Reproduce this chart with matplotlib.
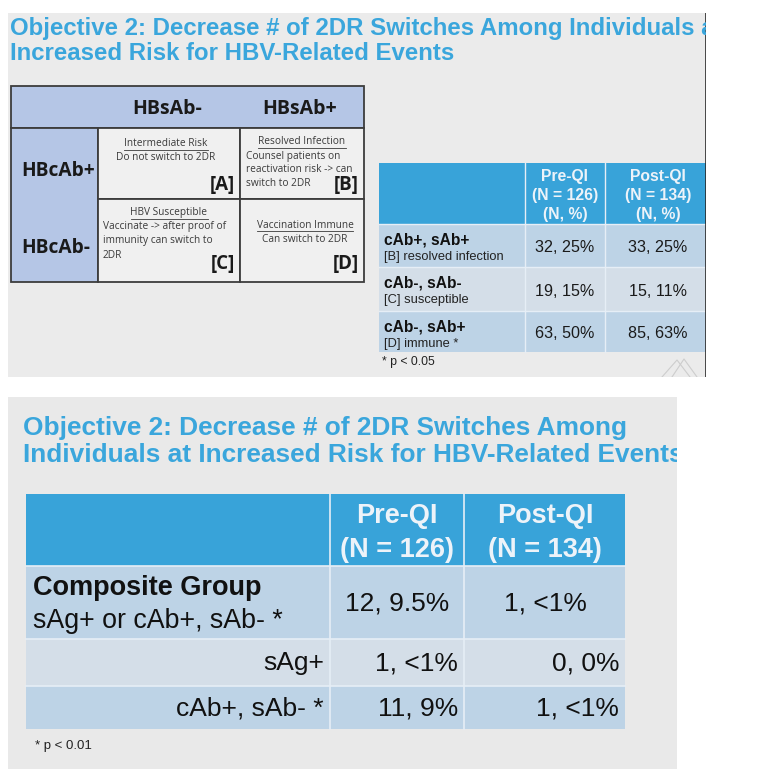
import matplotlib
matplotlib.use("Agg")
import matplotlib.pyplot as plt
from matplotlib.patches import Rectangle

W, H = 765, 777

# ---- data ----
title_top = ["Objective 2: Decrease # of 2DR Switches Among Individuals at",
             "Increased Risk for HBV-Related Events"]
title_bottom = ["Objective 2: Decrease # of 2DR Switches Among",
                "Individuals at Increased Risk for HBV-Related Events"]

grid_cols = ["HBsAb-", "HBsAb+"]
grid_rows = ["HBcAb+", "HBcAb-"]
grid_titles = [["Intermediate Risk", "Resolved Infection"],
               ["HBV Susceptible", "Vaccination Immune"]]
grid_bodies = [[["Do not switch to 2DR"],
                ["Counsel patients on", "reactivation risk -> can", "switch to 2DR"]],
               [["Vaccinate -> after proof of", "immunity can switch to", "2DR"],
                ["Can switch to 2DR"]]]
grid_tags = [["[A]", "[B]"], ["[C]", "[D]"]]

rt_heads = [["Pre-QI", "(N = 126)", "(N, %)"], ["Post-QI", "(N = 134)", "(N, %)"]]
rt_groups = ["cAb+, sAb+", "cAb-, sAb-", "cAb-, sAb+"]
rt_notes = ["[B] resolved infection", "[C] susceptible", "[D] immune *"]
rt_pre = ["32, 25%", "19, 15%", "63, 50%"]
rt_post = ["33, 25%", "15, 11%", "85, 63%"]
rt_foot = "* p < 0.05"

bt_heads = [["Pre-QI", "(N = 126)"], ["Post-QI", "(N = 134)"]]
bt_group = ["Composite Group", "sAg+ or cAb+, sAb- *"]
bt_sub = ["sAg+", "cAb+, sAb- *"]
bt_pre = ["12, 9.5%", "1, <1%", "11, 9%"]
bt_post = ["1, <1%", "0, 0%", "1, <1%"]
bt_foot = "* p < 0.01"

BLUE_T = "#3aa6dc"
HEAD = "#38a3d9"
ROW_A = "#bdd3e6"
ROW_B = "#d4dee8"
PERI = "#b5c6e6"
ARIAL = "Liberation Sans"
OPEN = "Open Sans"

fig = plt.figure(figsize=(W / 100, H / 100), dpi=100)
fig.patch.set_facecolor("white")


def slide(x0, y0, x1, y1, color):
    ax = fig.add_axes([x0 / W, 1 - y1 / H, (x1 - x0) / W, (y1 - y0) / H])
    ax.set_xlim(x0, x1)
    ax.set_ylim(y1, y0)
    ax.set_xticks([])
    ax.set_yticks([])
    for s in ax.spines.values():
        s.set_visible(False)
    ax.set_facecolor(color)
    return ax


def box(ax, x0, y0, x1, y1, fc, ec="none", lw=0):
    ax.add_patch(Rectangle((x0, y0), x1 - x0, y1 - y0, facecolor=fc,
                           edgecolor=ec, linewidth=lw))


# ================= top slide =================
ax1 = slide(8, 13, 706, 377, "#ebebeb")
for i, line in enumerate(title_top):
    ax1.text(10, 35 + i * 25, line, fontsize=17.3, fontweight="bold", family=ARIAL,
             color=BLUE_T, va="baseline", ha="left", clip_on=True)

# 2x2 grid
gx = [11, 98, 240, 364]
gy = [86, 128, 199, 282]
ec = "#3c3c3c"
box(ax1, gx[0], gy[0], gx[3], gy[1], PERI, ec, 1.3)
box(ax1, gx[0], gy[1], gx[1], gy[3], PERI, ec, 1.3)
for r in range(2):
    for c in range(2):
        box(ax1, gx[c + 1], gy[r + 1], gx[c + 2], gy[r + 2], "#f0f0f0", ec, 1.3)

for c, lab in enumerate(grid_cols):
    ax1.text((gx[c + 1] + gx[c + 2]) / 2 - 2, 109, lab, fontsize=14, fontweight="bold",
             family=OPEN, color="#1a1a1a", ha="center", va="center")
row_y = [171, 248]
for r, lab in enumerate(grid_rows):
    ax1.text(gx[0] + 10, row_y[r], lab, fontsize=13.8, fontweight="bold",
             family=OPEN, color="#1a1a1a", ha="left", va="center")

fig.canvas.draw()
renderer = fig.canvas.get_renderer()

# cell layout: (title centre x, title y, body x, body align, first body y)
cell_layout = [[(166, 144, 166, "center", 158), (302, 142, 246, "left", 156)],
               [(169, 213, 103, "left", 227), (305, 225, 305, "center", 239)]]
tag_y = [185, 264]
for r in range(2):
    for c in range(2):
        tx, ty, bx, ba, by = cell_layout[r][c]
        t = ax1.text(tx, ty, grid_titles[r][c], fontsize=7.3, family=OPEN,
                     color="#3a3a3a", ha="center", va="center")
        bb = t.get_window_extent(renderer).transformed(ax1.transData.inverted())
        ax1.plot([bb.x0, bb.x1], [ty + 5.5, ty + 5.5], color="#3a3a3a", lw=0.6)
        for k, line in enumerate(grid_bodies[r][c]):
            ax1.text(bx, by + k * 14, line, fontsize=7.3, family=OPEN,
                     color="#3a3a3a", ha=ba, va="center")
        ax1.text(gx[c + 2] - 5, tag_y[r], grid_tags[r][c], fontsize=13.5, fontweight="bold",
                 family=OPEN, color="#1a1a1a", ha="right", va="center")

# right table
rx = [379, 525, 605, 706]
ry = [163, 224, 267, 311, 352]
box(ax1, rx[0], ry[0], rx[3], ry[1], HEAD)
for i in range(3):
    box(ax1, rx[0], ry[i + 1], rx[3], ry[i + 2], ROW_A if i % 2 == 0 else ROW_B)
for x in rx[1:3]:
    ax1.plot([x, x], [ry[0], ry[4]], color="#e6eef6", lw=1.0)
for y in ry[1:4]:
    ax1.plot([rx[0], rx[3]], [y, y], color="#e6eef6", lw=1.0)
col_cx = [565, 658]
for c, head in enumerate(rt_heads):
    for k, line in enumerate(head):
        ax1.text(col_cx[c], 177 + k * 18.5, line, fontsize=11.3, fontweight="bold",
                 family=ARIAL, color="#edf3f9", ha="center", va="center")
for i in range(3):
    y0, y1 = ry[i + 1], ry[i + 2]
    ax1.text(384, y0 + 16, rt_groups[i], fontsize=11.2, fontweight="bold", family=ARIAL,
             color="#111111", ha="left", va="center")
    ax1.text(384, y0 + 33, rt_notes[i], fontsize=9.3, family=ARIAL,
             color="#222222", ha="left", va="center")
    ax1.text(col_cx[0], (y0 + y1) / 2 + 2, rt_pre[i], fontsize=11.6, family=ARIAL,
             color="#1a1a1a", ha="center", va="center")
    ax1.text(col_cx[1], (y0 + y1) / 2 + 2, rt_post[i], fontsize=11.6, family=ARIAL,
             color="#1a1a1a", ha="center", va="center")
ax1.text(382, 362, rt_foot, fontsize=8.8, family=ARIAL, color="#222222",
         ha="left", va="center")

# faint logo mark in the corner
ax1.plot([662, 677, 690], [377, 360, 377], color="#cdcdcd", lw=0.8)
ax1.plot([672, 684, 697], [377, 359, 377], color="#cdcdcd", lw=0.8)
ax1.plot([705.5, 705.5], [13, 377], color="#2a2a2a", lw=1.2)

# ================= bottom slide =================
ax2 = slide(8, 397, 677, 769, "#e9e9e9")
for i, line in enumerate(title_bottom):
    ax2.text(23, 435 + i * 27.5, line, fontsize=18.9, fontweight="bold", family=ARIAL,
             color=BLUE_T, va="baseline", ha="left", clip_on=True)

bx = [26, 330, 464, 625]
by = [494, 566, 639, 686, 729]
box(ax2, bx[0], by[0], bx[3], by[1], HEAD)
for i in range(3):
    box(ax2, bx[0], by[i + 1], bx[3], by[i + 2], ROW_A if i % 2 == 0 else ROW_B)
for x in bx[1:3]:
    ax2.plot([x, x], [by[0], by[4]], color="#e6eef6", lw=1.2)
for y in by[1:4]:
    ax2.plot([bx[0], bx[3]], [y, y], color="#e6eef6", lw=1.2)

bcol_cx = [397, 545]
for c, head in enumerate(bt_heads):
    for k, line in enumerate(head):
        ax2.text(bcol_cx[c], 516 + k * 34, line, fontsize=19.5, fontweight="bold",
                 family=ARIAL, color="#edf3f9", ha="center", va="center")

ax2.text(33, 588, bt_group[0], fontsize=19.5, fontweight="bold", family=ARIAL,
         color="#111111", ha="left", va="center")
ax2.text(33, 621, bt_group[1], fontsize=19.3, family=ARIAL,
         color="#111111", ha="left", va="center")
ax2.text(bcol_cx[0], 604, bt_pre[0], fontsize=19, family=ARIAL,
         color="#111111", ha="center", va="center")
ax2.text(bcol_cx[1], 604, bt_post[0], fontsize=19, family=ARIAL,
         color="#111111", ha="center", va="center")
for i in range(2):
    yc = (by[i + 2] + by[i + 3]) / 2 + 1
    ax2.text(bx[1] - 6, yc, bt_sub[i], fontsize=19, family=ARIAL,
             color="#111111", ha="right", va="center")
    ax2.text(bx[2] - 6, yc, bt_pre[i + 1], fontsize=19, family=ARIAL,
             color="#111111", ha="right", va="center")
    ax2.text(bx[3] - 6, yc, bt_post[i + 1], fontsize=19, family=ARIAL,
             color="#111111", ha="right", va="center")
ax2.text(35, 746, bt_foot, fontsize=9.5, family=ARIAL, color="#222222",
         ha="left", va="center")

fig.savefig("out.png", dpi=100, facecolor="white")
